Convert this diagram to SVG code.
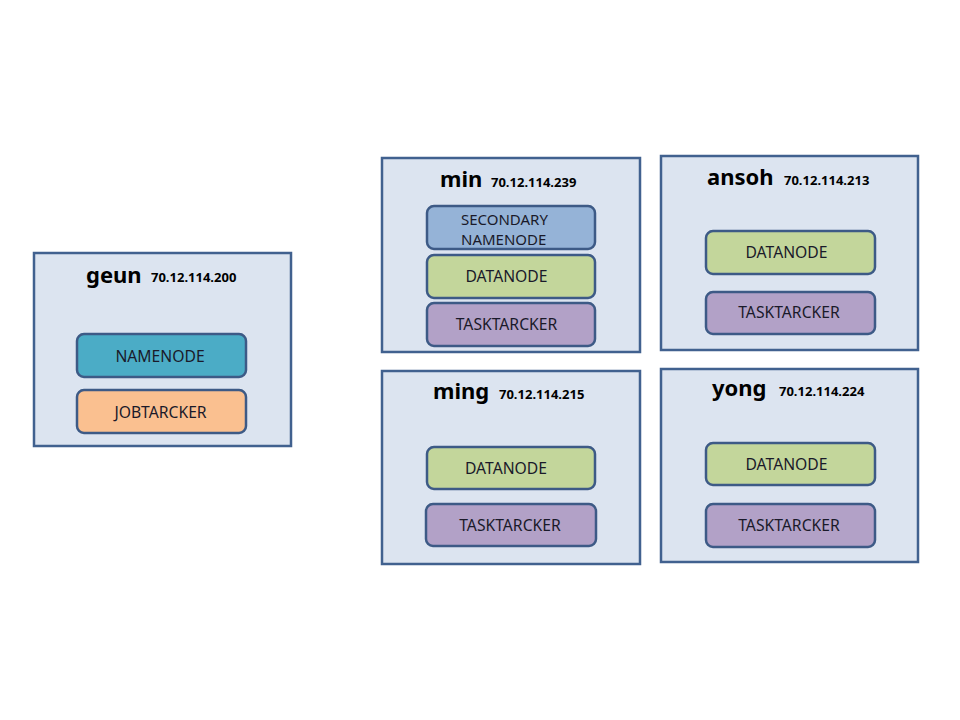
<svg xmlns="http://www.w3.org/2000/svg" width="960" height="720" viewBox="0 0 960 720">
<style>
.host{fill:#DCE4F0;stroke:#41618F;stroke-width:2.5}
.svc{stroke:#3D5A86;stroke-width:2.5}
.nn{fill:#4BACC6}
.jt{fill:#FAC090}
.snn{fill:#95B3D7}
.dn{fill:#C3D69B}
.tt{fill:#B2A1C7}
.name{font-family:"Noto Sans","Open Sans",sans-serif;font-weight:bold;font-size:22px;fill:#000}
.ip{font-family:"Noto Sans","Open Sans",sans-serif;font-weight:bold;font-size:13px;fill:#000}
.lbl{font-family:"Noto Sans","Open Sans",sans-serif;font-size:15.7px;fill:#1A1A2A;text-anchor:middle}
.lft{text-anchor:start;font-size:15px}
</style>
<rect width="960" height="720" fill="#FFFFFF"/>
<g id="geun">
<rect class="host" x="34" y="253" width="257" height="193"/>
<text class="name" x="86" y="283">geun</text>
<text class="ip" x="151" y="282">70.12.114.200</text>
<rect class="svc nn" x="77" y="334" width="169" height="43" rx="7"/>
<text class="lbl" x="160" y="362">NAMENODE</text>
<rect class="svc jt" x="77" y="390" width="169" height="43" rx="7"/>
<text class="lbl" x="160.5" y="418">JOBTARCKER</text>
</g>
<g id="min">
<rect class="host" x="382" y="158" width="258" height="194"/>
<text class="name" x="440" y="187">min</text>
<text class="ip" x="491" y="187">70.12.114.239</text>
<rect class="svc snn" x="427" y="206" width="168" height="43" rx="7"/>
<text class="lbl lft" x="461" y="225">SECONDARY</text>
<text class="lbl lft" x="461" y="245">NAMENODE</text>
<rect class="svc dn" x="427" y="255" width="168" height="43" rx="7"/>
<text class="lbl" x="506.5" y="282">DATANODE</text>
<rect class="svc tt" x="427" y="303" width="168" height="43" rx="7"/>
<text class="lbl" x="506.5" y="330">TASKTARCKER</text>
</g>
<g id="ansoh">
<rect class="host" x="661" y="156" width="257" height="194"/>
<text class="name" x="707" y="185">ansoh</text>
<text class="ip" x="784" y="185">70.12.114.213</text>
<rect class="svc dn" x="706" y="231" width="169" height="43" rx="7"/>
<text class="lbl" x="786.5" y="258">DATANODE</text>
<rect class="svc tt" x="706" y="292" width="169" height="42" rx="7"/>
<text class="lbl" x="789" y="318">TASKTARCKER</text>
</g>
<g id="ming">
<rect class="host" x="382" y="371" width="258" height="193"/>
<text class="name" x="433" y="399">ming</text>
<text class="ip" x="499" y="399">70.12.114.215</text>
<rect class="svc dn" x="427" y="447" width="168" height="42" rx="7"/>
<text class="lbl" x="506" y="474">DATANODE</text>
<rect class="svc tt" x="426" y="504" width="170" height="42" rx="7"/>
<text class="lbl" x="510" y="531">TASKTARCKER</text>
</g>
<g id="yong">
<rect class="host" x="661" y="369" width="257" height="193"/>
<text class="name" x="712" y="396">yong</text>
<text class="ip" x="779" y="396">70.12.114.224</text>
<rect class="svc dn" x="706" y="443" width="169" height="42" rx="7"/>
<text class="lbl" x="786.5" y="470">DATANODE</text>
<rect class="svc tt" x="706" y="504" width="169" height="43" rx="7"/>
<text class="lbl" x="789" y="531">TASKTARCKER</text>
</g>
<g id="connectors"></g>
</svg>
